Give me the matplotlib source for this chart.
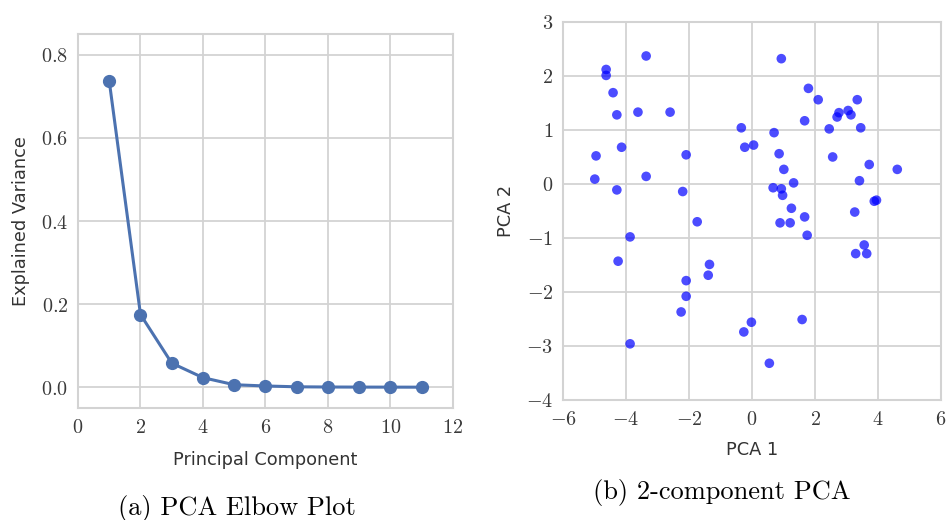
import matplotlib
matplotlib.use("Agg")
import matplotlib.pyplot as plt
from matplotlib.ticker import FuncFormatter, MultipleLocator

# explained variance per principal component (elbow plot)
components = [1, 2, 3, 4, 5, 6, 7, 8, 9, 10, 11]
explained_var = [0.737, 0.175, 0.058, 0.023, 0.006, 0.003, 0.001, 0.0005, 0.0003, 0.0002, 0.0001]

# 2-component PCA projection
pca1 = [-4.63, -4.63, -3.36, -4.41, -4.29, -3.62, -2.60, -4.14, -4.95, -4.99,
        -3.36, -4.29, -2.09, -2.20, -1.74, -3.87, -4.25, -1.35, -1.39, -2.09,
        -2.09, -2.25, -3.87, -0.26, -0.02, 0.55, 1.59, 0.93, 1.79, 2.10,
        1.67, -0.34, 0.70, -0.23, 0.05, 0.86, 1.01, 1.32, 0.67, 0.93,
        0.97, 1.25, 0.89, 1.21, 1.67, 1.75, 2.45, 2.70, 2.76, 3.05,
        3.14, 3.34, 3.45, 2.56, 3.72, 4.61, 3.41, 3.88, 3.95, 3.26,
        3.56, 3.29, 3.64]
pca2 = [2.12, 2.01, 2.37, 1.69, 1.28, 1.33, 1.33, 0.68, 0.52, 0.09,
        0.14, -0.11, 0.54, -0.14, -0.70, -0.98, -1.43, -1.49, -1.69, -1.79,
        -2.08, -2.37, -2.96, -2.74, -2.56, -3.32, -2.51, 2.32, 1.77, 1.56,
        1.17, 1.04, 0.95, 0.68, 0.72, 0.56, 0.27, 0.02, -0.07, -0.09,
        -0.21, -0.45, -0.72, -0.72, -0.61, -0.95, 1.02, 1.24, 1.32, 1.36,
        1.28, 1.56, 1.04, 0.50, 0.36, 0.27, 0.06, -0.32, -0.30, -0.52,
        -1.13, -1.29, -1.29]

plt.rcParams['mathtext.fontset'] = 'cm'
plt.rcParams['font.family'] = 'DejaVu Sans'

grid_col = '#d3d3d3'
tick_size = 14.5
label_size = 12.8

fig = plt.figure(figsize=(9.5, 5.2), dpi=100)

def style(ax):
    ax.grid(True, color=grid_col, linewidth=1.3)
    ax.set_axisbelow(True)
    for s in ax.spines.values():
        s.set_color(grid_col)
        s.set_linewidth(1.5)
    ax.tick_params(length=0, labelsize=tick_size, labelcolor='#3a3a3a', pad=7)

# (a) elbow plot
ax1 = fig.add_axes([0.0821, 0.2154, 0.3947, 0.719])
ax1.plot(components, explained_var, color='#4C72B0', linewidth=2.2,
         marker='o', markersize=8.5)
ax1.set_xlim(0, 12)
ax1.set_ylim(-0.05, 0.85)
ax1.xaxis.set_major_locator(MultipleLocator(2))
ax1.yaxis.set_major_locator(MultipleLocator(0.2))
ax1.xaxis.set_major_formatter(FuncFormatter(lambda v, p: f"${v:.0f}$"))
ax1.yaxis.set_major_formatter(FuncFormatter(lambda v, p: f"${v:.1f}$"))
ax1.set_xlabel('Principal Component', fontsize=label_size, color='#333333', labelpad=10)
ax1.set_ylabel('Explained Variance', fontsize=label_size, color='#333333', labelpad=8)
style(ax1)

# (b) scatter of first two components
ax2 = fig.add_axes([0.5926, 0.2308, 0.398, 0.727])
ax2.scatter(pca1, pca2, s=48, color='blue', alpha=0.7, edgecolors='none')
ax2.set_xlim(-6, 6)
ax2.set_ylim(-4, 3)
ax2.xaxis.set_major_locator(MultipleLocator(2))
ax2.yaxis.set_major_locator(MultipleLocator(1))
ax2.xaxis.set_major_formatter(FuncFormatter(lambda v, p: f"${v:.0f}$"))
ax2.yaxis.set_major_formatter(FuncFormatter(lambda v, p: f"${v:.0f}$"))
ax2.set_xlabel('PCA 1', fontsize=label_size, color='#333333', labelpad=9)
ax2.set_ylabel('PCA 2', fontsize=label_size, color='#333333', labelpad=8)
style(ax2)

fig.text(237/950, 1 - 508/520, '(a) PCA Elbow Plot', family='cmr10',
         fontsize=19, ha='center', va='center')
fig.text(722/950, 1 - 492/520, '(b) 2-component PCA', family='cmr10',
         fontsize=19, ha='center', va='center')

fig.savefig('out.png', dpi=100)
